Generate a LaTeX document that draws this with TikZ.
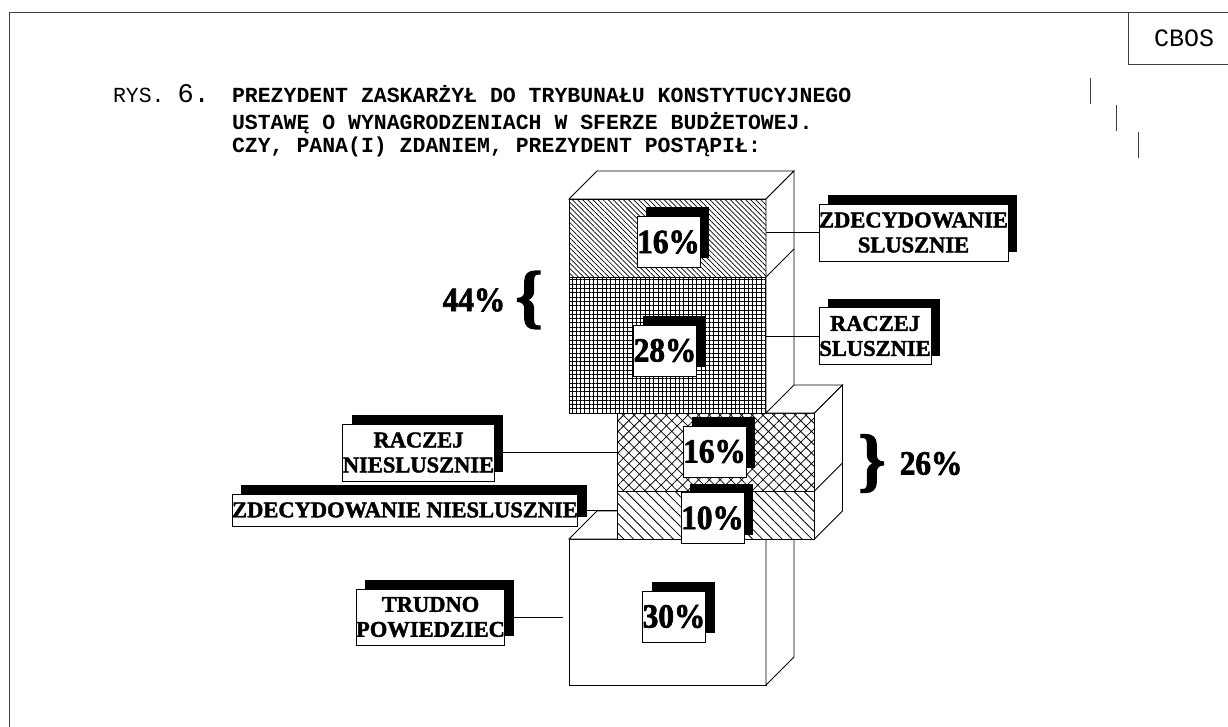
\documentclass[tikz,border=0pt]{standalone}
\usepackage{fontspec}
\setmainfont{Liberation Serif}
\setmonofont{Liberation Mono}
\newfontfamily\heavyfont{Liberation Serif}[FakeBold=1.8]
\newfontfamily\pctfont{Liberation Serif}[FakeBold=2,FakeStretch=0.92]
\usetikzlibrary{positioning,patterns.meta,shadows}

\newcommand{\dep}{28}

\begin{document}
\begin{tikzpicture}[x=1pt,y=1pt,
	every node/.style={inner sep=0pt,outer sep=0pt},
	face/.style={draw,line width=0.9pt,minimum width=197pt,preaction={fill=white}},
	box/.style={draw,line width=0.9pt,fill=white},
	wire/.style={line width=0.8pt},
	frame/.style={line width=0.8pt,black!75},
	pct/.style={draw,fill=white,line width=0.8pt,minimum width=63pt,minimum height=51pt,
		font=\pctfont\bfseries\fontsize{34}{34}\selectfont,
		drop shadow={shadow xshift=9pt,shadow yshift=9pt,fill=black,opacity=1}},
	tag/.style={draw,fill=white,line width=0.8pt,align=center,
		font=\heavyfont\bfseries\fontsize{22.5}{25}\selectfont,
		drop shadow={shadow xshift=9pt,shadow yshift=9pt,fill=black,opacity=1}},
	sum/.style={font=\pctfont\bfseries\fontsize{34}{34}\selectfont},
	brace/.style={font=\heavyfont\bfseries\fontsize{70}{70}\selectfont},
	title/.style={anchor=base west,font=\ttfamily\bfseries\fontsize{21.5}{26}\selectfont}]
\useasboundingbox (0,0) rectangle (1228,-727);

% frame and header
\draw[frame] (9,-727) -- (9,-12) -- (1228,-12);
\node[draw,frame,anchor=north west,minimum width=112pt,minimum height=52pt,
	font=\ttfamily\fontsize{25}{25}\selectfont,text=black] (cbos) at (1128,-12) {CBOS};
\foreach \x/\y in {1090/78,1116/105,1138/132}
	\draw[frame] (\x,-\y) -- ++(0,-26);

\node[anchor=base west,font=\ttfamily\fontsize{21.5}{26}\selectfont] (rys) at (113,-103)
	{RYS. {\fontsize{27}{27}\selectfont 6.}};
\node[title] (t1) at (232,-103) {PREZYDENT ZASKARŻYŁ DO TRYBUNAŁU KONSTYTUCYJNEGO};
\node[title] (t2) at (232,-130) {USTAWĘ O WYNAGRODZENIACH W SFERZE BUDŻETOWEJ.};
\node[title] (t3) at (232,-153) {CZY, PANA(I) ZDANIEM, PREZYDENT POSTĄPIŁ:};

% bottom box: trudno powiedziec
\node[face,minimum height=146pt] (fTP) at (667.5,-612) {};
\draw[box] (fTP.north west) -- ++(\dep,\dep) -- ++(197,0) -- (fTP.north east) -- cycle;
\draw[box] (fTP.north east) -- ++(\dep,\dep) -- ++(0,-146) -- (fTP.south east) -- cycle;

% middle stack: niesluszne
\node[face,minimum height=78pt,pattern={Hatch[angle=45,distance=7.6pt,line width=0.8pt]}]
	(fRN) at (716,-452) {};
\node[face,minimum height=48pt,pattern={Lines[angle=-45,distance=7pt,line width=0.8pt]},
	below=0pt of fRN] (fZN) {};
\draw[box] (fRN.north west) -- ++(\dep,\dep) -- ++(197,0) -- (fRN.north east) -- cycle;
\draw[box] (fRN.north east) -- ++(\dep,\dep) -- ++(0,-126) -- (fZN.south east) -- cycle;
\draw[box] (fZN.north east) -- ++(\dep,\dep);

% top stack: sluszne
\node[face,minimum height=78pt,pattern={Lines[angle=-45,distance=3.6pt,line width=0.7pt]}]
	(fZS) at (667.5,-238) {};
\node[face,minimum height=136pt,pattern={Hatch[angle=0,distance=4.3pt,line width=0.75pt]},
	below=0pt of fZS] (fRS) {};
\draw[box] (fZS.north west) -- ++(\dep,\dep) -- ++(197,0) -- (fZS.north east) -- cycle;
\draw[box] (fZS.north east) -- ++(\dep,\dep) -- ++(0,-214) -- (fRS.south east) -- cycle;
\draw[box] (fZS.south east) -- ++(\dep,\dep);

% percentages
\node[pct] (pZS) at (668.5,-242) {16\%};
\node[pct] (pRS) at (665,-350.5) {28\%};
\node[pct] (pRN) at (714.5,-451.5) {16\%};
\node[pct] (pZN) at (712.5,-518) {10\%};
\node[pct] (pTP) at (674,-616.5) {30\%};

% answer labels
\node[tag,minimum width=185pt,minimum height=57pt] (zs) at (913.5,-232.5) {ZDECYDOWANIE\\SLUSZNIE};
\node[tag,minimum width=112pt,minimum height=57pt] (rs) at (875,-336) {RACZEJ\\SLUSZNIE};
\node[tag,minimum width=151pt,minimum height=57pt] (rn) at (418.5,-452.5) {RACZEJ\\NIESLUSZNIE};
\node[tag,minimum width=342pt,minimum height=32pt] (zn) at (405,-510) {ZDECYDOWANIE NIESLUSZNIE};
\node[tag,minimum width=145pt,minimum height=56pt] (tp) at (430.5,-617) {TRUDNO\\POWIEDZIEC};
\coordinate (tpEnd) at (563,-617);

\draw[wire] (zs.west) -- (zs.west -| fZS.east);
\draw[wire] (rs.west) -- (rs.west -| fRS.east);
\draw[wire] (rn.east) -- (rn.east -| fRN.west);
\draw[wire] (zn.east) -- (zn.east -| fZN.west);
\draw[wire] (tp.east) -- (tpEnd);

% sums
\node[brace] (b44) at (529,-300) {\{};
\node[sum,left=10pt of b44] (s44) {44\%};
\node[brace] (b26) at (872,-463.5) {\}};
\node[sum,right=14pt of b26] (s26) {26\%};
\end{tikzpicture}
\end{document}
